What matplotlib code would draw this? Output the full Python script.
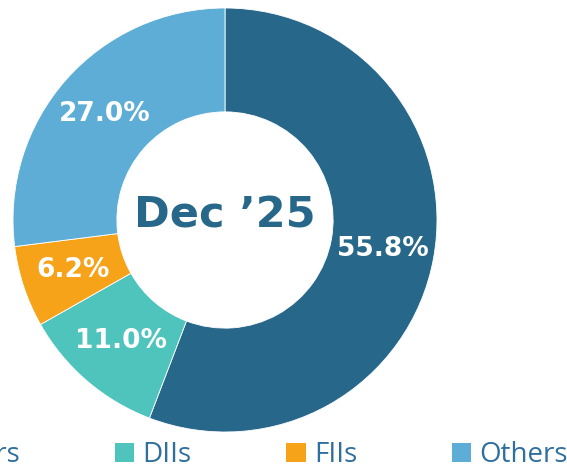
import matplotlib
matplotlib.use('Agg')
import matplotlib.pyplot as plt
from matplotlib.patches import Patch

labels = ['Promoters', 'DIIs', 'FIIs', 'Others']
values = [55.8, 11.0, 6.2, 27.0]
colors = ['#27688A', '#4FC4BD', '#F7A31A', '#5EADD7']
center_text = 'Dec \u201925'

plt.rcParams['font.family'] = ['Open Sans', 'DejaVu Sans']

W, H = 567, 469
fig = plt.figure(figsize=(W / 100, H / 100), dpi=100)
# donut centre at (225, 220) px, outer radius 212 px
ax = fig.add_axes([(225 - 212) / W, (H - 220 - 212) / H, 424 / W, 424 / H])

wedges, texts, autotexts = ax.pie(
	values, colors=colors, startangle=90, counterclock=False,
	radius=1, autopct='%.1f%%', pctdistance=0.755,
	wedgeprops=dict(width=0.49, edgecolor='white', linewidth=0.6),
	textprops=dict(color='white', fontsize=19, fontweight='bold',
		family='DejaVu Sans'))
ax.set_xlim(-1, 1)
ax.set_ylim(-1, 1)
ax.set_aspect('equal')
ax.axis('off')

ax.text(0, 0.02, center_text, ha='center', va='center', fontsize=31,
	fontweight='bold', color='#27688A', family='DejaVu Sans')

handles = [Patch(facecolor=c, edgecolor='none') for c in colors]
leg = fig.legend(handles, labels, ncol=4, loc='center',
	bbox_to_anchor=(212 / W, 1 - 455 / H), frameon=False,
	fontsize=20, handlelength=0.7, handleheight=0.7, handletextpad=0.3,
	columnspacing=3.4, borderpad=0)
for t in leg.get_texts():
	t.set_color('#2E6F9E')

fig.savefig('out.png', dpi=100)
